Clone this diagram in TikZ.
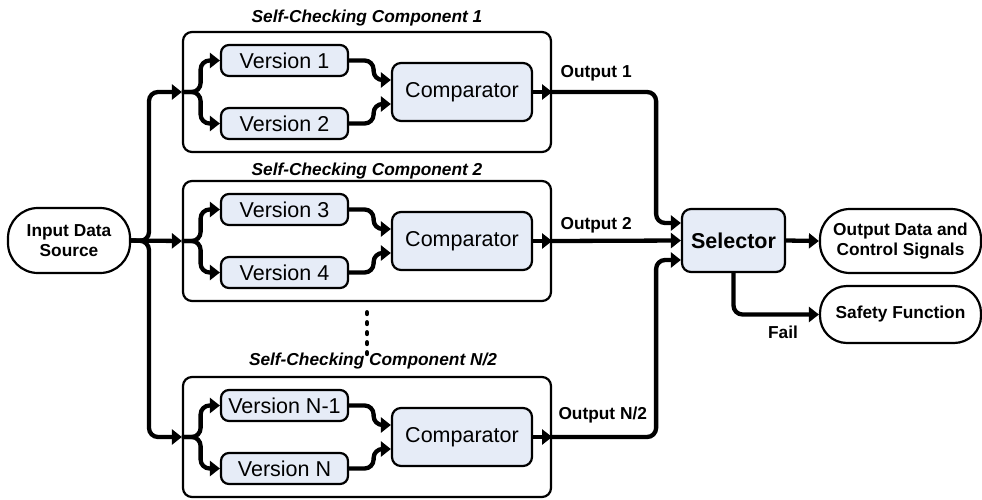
\documentclass[tikz,border=0pt]{standalone}
\usepackage{fontspec}
\setmainfont{Liberation Sans}
\usetikzlibrary{arrows.meta,calc}
\definecolor{boxfill}{RGB}{230,236,247}
\tikzset{
  regular/.style={font=\fontsize{21.5}{24}\selectfont},
  boldlbl/.style={font=\fontsize{17.3}{20}\selectfont\bfseries},
  titlelbl/.style={font=\fontsize{17.3}{20}\selectfont\bfseries\itshape},
  compbox/.style={draw, line width=2.2pt, rounded corners=9pt, minimum width=368pt, minimum height=120pt, inner sep=0pt},
  verbox/.style={draw, fill=boxfill, line width=2.2pt, rounded corners=8pt, minimum width=127pt, minimum height=31pt, inner sep=0pt, regular},
  cmpbox/.style={draw, fill=boxfill, line width=2.2pt, rounded corners=9pt, minimum width=140pt, minimum height=58pt, inner sep=0pt, regular},
  stadium/.style={draw, line width=2.2pt, rounded corners=30pt, inner sep=0pt, boldlbl, align=center},
  conn/.style={line width=4.3pt, rounded corners=9pt, -{Triangle[length=10pt,width=15pt]}},
  dotline/.style={line width=4pt, line cap=round, dash pattern=on 2pt off 8pt}
}
\begin{document}
\begin{tikzpicture}[x=1pt,y=-1pt]
  \useasboundingbox (0,0) rectangle (982,499);

  % source, selector and sinks
  \node[stadium, minimum width=122pt, minimum height=65pt] (src) at (69,240.5) {Input Data\\Source};
  \node[draw, fill=boxfill, line width=2.2pt, rounded corners=9pt, minimum width=103pt, minimum height=63pt,
        inner sep=0pt, font=\fontsize{21.5}{24}\selectfont\bfseries] (sel) at (733.5,240.5) {Selector};
  \node[stadium, minimum width=161pt, minimum height=64pt] (out) at (900.5,241) {Output Data and\\Control Signals};
  \node[stadium, minimum width=161pt, minimum height=57pt, rounded corners=27pt] (safe) at (900.5,314.5) {Safety Function};

  % self-checking components
  \node[compbox] (comp1) at (367,92) {};
  \node[compbox] (comp2) at (367,241) {};
  \node[compbox] (comp3) at (367,437) {};
  \node[titlelbl] (t1) at (367,18) {Self-Checking Component 1};
  \node[titlelbl] (t2) at (367,171) {Self-Checking Component 2};
  \node[titlelbl] (t3) at (373,361) {Self-Checking Component N/2};

  \node[verbox] (v1) at (284.5,60.5) {Version 1};
  \node[verbox] (v2) at (284.5,123.5) {Version 2};
  \node[cmpbox] (cmp1) at (462,92) {Comparator};

  \node[verbox] (v3) at (284.5,209.5) {Version 3};
  \node[verbox] (v4) at (284.5,272.5) {Version 4};
  \node[cmpbox] (cmp2) at (462,241) {Comparator};

  \node[verbox] (v5) at (284.5,405.5) {Version N-1};
  \node[verbox] (v6) at (284.5,468.5) {Version N};
  \node[cmpbox] (cmp3) at (462,437) {Comparator};

  % fan-out from the data source
  \coordinate (trunk) at (149,241);
  \draw[conn] (src.east) -- (trunk) |- (comp1.west);
  \draw[conn] (src.east) -- (comp2.west);
  \draw[conn] (src.east) -- (trunk) |- (comp3.west);

  % inside each component: split to the versions, merge into the comparator
  \foreach \c/\va/\vb/\k in {comp1/v1/v2/cmp1, comp2/v3/v4/cmp2, comp3/v5/v6/cmp3}{
    \draw[conn] (\c.west) -- ++(18.7,0) |- (\va.west);
    \draw[conn] (\c.west) -- ++(18.7,0) |- (\vb.west);
    \draw[conn] (\va.east) -- ++(24.5,0) |- ($(\k.west)+(0,-12)$);
    \draw[conn] (\vb.east) -- ++(24.5,0) |- ($(\k.west)+(0,12)$);
    \draw[conn] (\k.east) -- (\c.east);
  }

  % outputs to the selector
  \draw[conn] (comp1.east) -- ++(104,0) |- ($(sel.west)+(0,-17.5)$);
  \draw[conn] (comp2.east) -- (sel.west);
  \draw[conn] (comp3.east) -- ++(104,0) |- ($(sel.west)+(0,19.5)$);
  \node[boldlbl, anchor=west] (o1) at (557,73.5) {Output 1};
  \node[boldlbl, anchor=west] (o2) at (557,225) {Output 2};
  \node[boldlbl, anchor=west] (o3) at (555,415) {Output N/2};

  % selector outputs
  \draw[conn] (sel.east) -- (out.west);
  \draw[conn] (sel.south) |- (safe.west);
  \node[boldlbl] (fail) at (783,332) {Fail};

  % further components are elided
  \draw[dotline] ($(comp2.south)+(0,10)$) -- ($(comp3.north)+(0,-20)$);
\end{tikzpicture}
\end{document}
